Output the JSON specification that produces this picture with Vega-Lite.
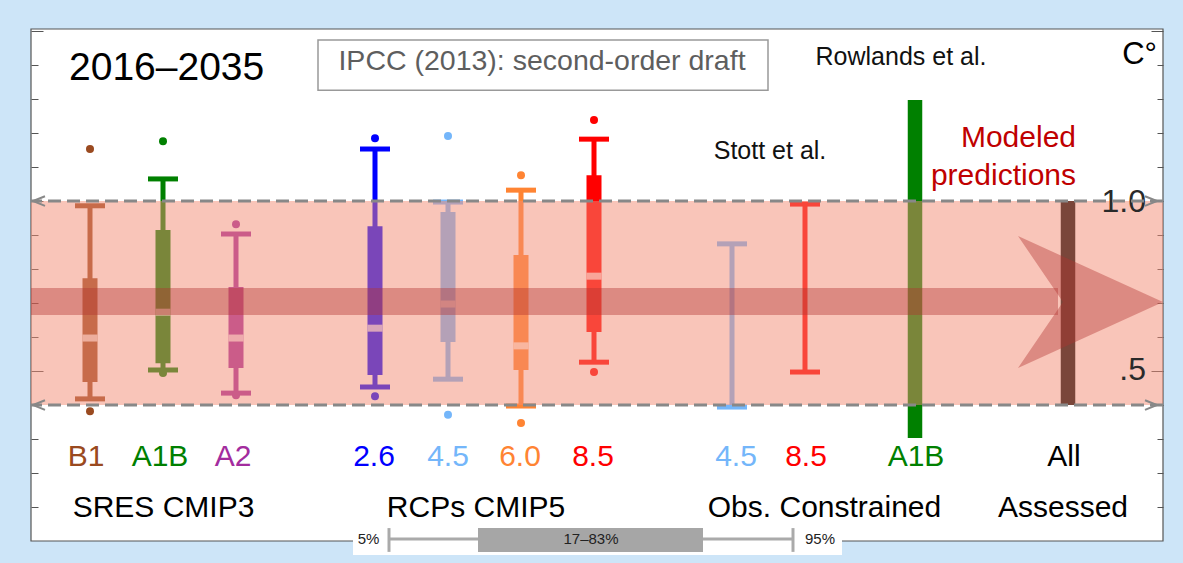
{
  "$schema": "https://vega.github.io/schema/vega-lite/v6.json",
  "width": 1132,
  "height": 512,
  "autosize": {"type": "none"},
  "padding": {"left": 31, "top": 29, "right": 20, "bottom": 22},
  "background": "#cde5f8",
  "config": {"view": {"fill": "white", "stroke": null}, "text": {"font": "Liberation Sans"}},
  "resolve": {"axis": {"y": "independent"}},
  "datasets": {
    "frame": [{"x0": 0, "x1": 1132, "lo": 0, "hi": 1.506}],
    "ipccbox": [{"x0": 287, "x1": 737, "lo": 1.326, "hi": 1.474}],
    "notes": [
      {"kind": "title", "x": 38, "v": 1.356, "text": "2016–2035"},
      {"kind": "ipcc", "x": 511, "v": 1.385, "text": "IPCC (2013): second-order draft"},
      {"kind": "ref", "x": 870, "v": 1.4, "text": "Rowlands et al."},
      {"kind": "ref", "x": 739, "v": 1.124, "text": "Stott et al."},
      {"kind": "unit", "x": 1126, "v": 1.403, "text": "C°"},
      {"kind": "model", "x": 1045, "v": 1.159, "text": "Modeled"},
      {"kind": "model", "x": 1045, "v": 1.047, "text": "predictions"},
      {"kind": "tick", "x": 1115, "v": 0.968, "text": "1.0"},
      {"kind": "tick", "x": 1115, "v": 0.474, "text": ".5"}
    ],
    "labels": [
      {"series": "B1", "x": 55, "text": "B1"},
      {"series": "A1B", "x": 129, "text": "A1B"},
      {"series": "A2", "x": 202, "text": "A2"},
      {"series": "2.6", "x": 343, "text": "2.6"},
      {"series": "4.5", "x": 417, "text": "4.5"},
      {"series": "6.0", "x": 489, "text": "6.0"},
      {"series": "8.5", "x": 562, "text": "8.5"},
      {"series": "Obs 4.5", "x": 705, "text": "4.5"},
      {"series": "Obs 8.5", "x": 775, "text": "8.5"},
      {"series": "Rowlands A1B", "x": 885, "text": "A1B"},
      {"series": "All", "x": 1033, "text": "All"}
    ],
    "groups": [
      {"x": 132.5, "text": "SRES CMIP3"},
      {"x": 445, "text": "RCPs CMIP5"},
      {"x": 793.5, "text": "Obs. Constrained"},
      {"x": 1032, "text": "Assessed"}
    ],
    "boxes": [
      {"series": "B1", "x": 59, "lo": 0.418, "q1": 0.468, "med": 0.597, "q3": 0.773, "hi": 0.986},
      {"series": "A1B", "x": 132, "lo": 0.503, "q1": 0.523, "med": 0.673, "q3": 0.915, "hi": 1.065},
      {"series": "A2", "x": 205, "lo": 0.435, "q1": 0.509, "med": 0.597, "q3": 0.747, "hi": 0.903},
      {"series": "2.6", "x": 344, "lo": 0.453, "q1": 0.488, "med": 0.626, "q3": 0.926, "hi": 1.153},
      {"series": "4.5", "x": 417, "lo": 0.476, "q1": 0.585, "med": 0.697, "q3": 0.968, "hi": 0.997},
      {"series": "6.0", "x": 490, "lo": 0.397, "q1": 0.503, "med": 0.574, "q3": 0.841, "hi": 1.032},
      {"series": "8.5", "x": 563, "lo": 0.526, "q1": 0.615, "med": 0.779, "q3": 1.076, "hi": 1.182}
    ],
    "outliers": [
      {"series": "B1", "x": 59, "v": 1.153}, {"series": "B1", "x": 59, "v": 0.382},
      {"series": "A1B", "x": 132, "v": 1.176}, {"series": "A1B", "x": 132, "v": 0.494},
      {"series": "A2", "x": 205, "v": 0.932}, {"series": "A2", "x": 205, "v": 0.429},
      {"series": "2.6", "x": 344, "v": 1.185}, {"series": "2.6", "x": 344, "v": 0.426},
      {"series": "4.5", "x": 417, "v": 1.191}, {"series": "4.5", "x": 417, "v": 0.371},
      {"series": "6.0", "x": 490, "v": 1.076}, {"series": "6.0", "x": 490, "v": 0.347},
      {"series": "8.5", "x": 563, "v": 1.238}, {"series": "8.5", "x": 563, "v": 0.497}
    ],
    "ranges": [
      {"series": "Obs 4.5", "x": 701, "lo": 0.394, "hi": 0.874},
      {"series": "Obs 8.5", "x": 774, "lo": 0.497, "hi": 0.991}
    ],
    "bars": [
      {"series": "Rowlands A1B", "x": 884, "lo": 0.303, "hi": 1.297},
      {"series": "All", "x": 1037, "lo": 0.4, "hi": 1.0}
    ],
    "likely": [{"x0": 0, "x1": 1132, "lo": 0.4, "hi": 1.0}],
    "limits": [{"v": 0.4}, {"v": 1.0}],
    "chevrons": [
      {"x": 8, "v": 1.0, "dir": "left"}, {"x": 8, "v": 0.4, "dir": "left"},
      {"x": 1120, "v": 1.0, "dir": "right"}, {"x": 1120, "v": 0.4, "dir": "right"}
    ],
    "shaft": [{"x0": 0, "x1": 1027, "lo": 0.665, "hi": 0.744}],
    "head": [{"x": 1059.5, "v": 0.703}],
    "keyback": [{"x0": 322, "x1": 811, "lo": -0.041, "hi": 0.032}],
    "keyline": [{"x0": 358, "x1": 762, "v": 0.006}],
    "keycaps": [{"x": 358, "lo": -0.032, "hi": 0.038}, {"x": 762, "lo": -0.032, "hi": 0.038}],
    "keybox": [{"x0": 447, "x1": 672, "lo": -0.032, "hi": 0.038}],
    "keytext": [
      {"kind": "end", "x": 337.5, "v": 0.006, "text": "5%"},
      {"kind": "mid", "x": 560, "v": 0.006, "text": "17–83%"},
      {"kind": "end", "x": 789, "v": 0.006, "text": "95%"}
    ]
  },
  "layer": [
    {
      "data": {"name": "frame"},
      "mark": {"type": "rect", "fillOpacity": 0, "stroke": "#555", "strokeWidth": 1.2},
      "encoding": {
        "x": {"field": "x0", "type": "quantitative", "scale": {"domain": [0, 1132], "nice": false, "zero": false}, "axis": null},
        "x2": {"field": "x1"},
        "y": {"field": "lo", "type": "quantitative", "scale": {"domain": [0, 1.506], "nice": false, "zero": false},
          "axis": {"orient": "left", "values": [0.1, 0.2, 0.3, 0.4, 0.5, 0.6, 0.7, 0.8, 0.9, 1, 1.1, 1.2, 1.3, 1.4, 1.5], "labels": false, "domain": false, "grid": false, "title": null, "tickColor": "#555", "tickWidth": 1,
            "tickSize": {"condition": {"test": "datum.value == 0.5 || datum.value == 1 || datum.value == 1.5", "value": -12}, "value": -7}}},
        "y2": {"field": "hi"}
      }
    },
    {
      "data": {"name": "ipccbox"},
      "mark": {"type": "rect", "fill": "white", "stroke": "#999", "strokeWidth": 1.5},
      "encoding": {
        "x": {"field": "x0", "type": "quantitative", "scale": {"domain": [0, 1132], "nice": false, "zero": false}, "axis": null},
        "x2": {"field": "x1"},
        "y": {"field": "lo", "type": "quantitative", "scale": {"domain": [0, 1.506], "nice": false, "zero": false}, "axis": null},
        "y2": {"field": "hi"}
      }
    },
    {
      "data": {"name": "notes"},
      "transform": [{"filter": "datum.kind == 'title'"}],
      "mark": {"type": "text", "align": "left", "baseline": "alphabetic", "fontSize": 39, "color": "black", "font": "Liberation Sans"},
      "encoding": {
        "x": {"field": "x", "type": "quantitative", "scale": {"domain": [0, 1132], "nice": false, "zero": false}, "axis": null},
        "y": {"field": "v", "type": "quantitative", "scale": {"domain": [0, 1.506], "nice": false, "zero": false}, "axis": null},
        "text": {"field": "text"}
      }
    },
    {
      "data": {"name": "notes"},
      "transform": [{"filter": "datum.kind == 'ipcc'"}],
      "mark": {"type": "text", "align": "center", "baseline": "alphabetic", "fontSize": 28.5, "color": "#5e5e5e", "font": "Liberation Sans"},
      "encoding": {
        "x": {"field": "x", "type": "quantitative", "scale": {"domain": [0, 1132], "nice": false, "zero": false}, "axis": null},
        "y": {"field": "v", "type": "quantitative", "scale": {"domain": [0, 1.506], "nice": false, "zero": false}, "axis": null},
        "text": {"field": "text"}
      }
    },
    {
      "data": {"name": "notes"},
      "transform": [{"filter": "datum.kind == 'ref'"}],
      "mark": {"type": "text", "align": "center", "baseline": "alphabetic", "fontSize": 25, "color": "#111", "font": "Liberation Sans"},
      "encoding": {
        "x": {"field": "x", "type": "quantitative", "scale": {"domain": [0, 1132], "nice": false, "zero": false}, "axis": null},
        "y": {"field": "v", "type": "quantitative", "scale": {"domain": [0, 1.506], "nice": false, "zero": false}, "axis": null},
        "text": {"field": "text"}
      }
    },
    {
      "data": {"name": "notes"},
      "transform": [{"filter": "datum.kind == 'unit'"}],
      "mark": {"type": "text", "align": "right", "baseline": "alphabetic", "fontSize": 31, "color": "black", "font": "Liberation Sans"},
      "encoding": {
        "x": {"field": "x", "type": "quantitative", "scale": {"domain": [0, 1132], "nice": false, "zero": false}, "axis": null},
        "y": {"field": "v", "type": "quantitative", "scale": {"domain": [0, 1.506], "nice": false, "zero": false}, "axis": null},
        "text": {"field": "text"}
      }
    },
    {
      "data": {"name": "notes"},
      "transform": [{"filter": "datum.kind == 'model'"}],
      "mark": {"type": "text", "align": "right", "baseline": "alphabetic", "fontSize": 30, "color": "#c00000", "font": "Liberation Sans"},
      "encoding": {
        "x": {"field": "x", "type": "quantitative", "scale": {"domain": [0, 1132], "nice": false, "zero": false}, "axis": null},
        "y": {"field": "v", "type": "quantitative", "scale": {"domain": [0, 1.506], "nice": false, "zero": false}, "axis": null},
        "text": {"field": "text"}
      }
    },
    {
      "data": {"name": "labels"},
      "mark": {"type": "text", "align": "center", "baseline": "alphabetic", "fontSize": 30, "font": "Liberation Sans"},
      "encoding": {
        "x": {"field": "x", "type": "quantitative", "scale": {"domain": [0, 1132], "nice": false, "zero": false}, "axis": null},
        "y": {"datum": 0.221, "type": "quantitative", "scale": {"domain": [0, 1.506], "nice": false, "zero": false}, "axis": null},
        "text": {"field": "text"},
        "color": {"field": "series", "type": "nominal", "legend": null,
          "scale": {"domain": ["B1", "A1B", "A2", "2.6", "4.5", "6.0", "8.5", "Obs 4.5", "Obs 8.5", "Rowlands A1B", "All"],
            "range": ["#9a4a20", "#008000", "#a32c9e", "#0000ff", "#74b6fa", "#ff8433", "#ff0000", "#74b6fa", "#ff0000", "#008000", "#000000"]}}
      }
    },
    {
      "data": {"name": "groups"},
      "mark": {"type": "text", "align": "center", "baseline": "alphabetic", "fontSize": 30, "color": "black", "font": "Liberation Sans"},
      "encoding": {
        "x": {"field": "x", "type": "quantitative", "scale": {"domain": [0, 1132], "nice": false, "zero": false}, "axis": null},
        "y": {"datum": 0.0706, "type": "quantitative", "scale": {"domain": [0, 1.506], "nice": false, "zero": false}, "axis": null},
        "text": {"field": "text"}
      }
    },
    {
      "data": {"name": "boxes"},
      "mark": {"type": "rule", "strokeWidth": 5},
      "encoding": {
        "x": {"field": "x", "type": "quantitative", "scale": {"domain": [0, 1132], "nice": false, "zero": false}, "axis": null},
        "y": {"field": "lo", "type": "quantitative", "scale": {"domain": [0, 1.506], "nice": false, "zero": false}, "axis": null},
        "y2": {"field": "hi"},
        "color": {"field": "series", "type": "nominal", "legend": null}
      }
    },
    {
      "data": {"name": "boxes"},
      "mark": {"type": "rule", "strokeWidth": 15},
      "encoding": {
        "x": {"field": "x", "type": "quantitative", "scale": {"domain": [0, 1132], "nice": false, "zero": false}, "axis": null},
        "y": {"field": "q1", "type": "quantitative", "scale": {"domain": [0, 1.506], "nice": false, "zero": false}, "axis": null},
        "y2": {"field": "q3"},
        "color": {"field": "series", "type": "nominal", "legend": null}
      }
    },
    {
      "data": {"name": "boxes"},
      "mark": {"type": "tick", "orient": "horizontal", "size": 15, "thickness": 7, "color": "white", "opacity": 0.75},
      "encoding": {
        "x": {"field": "x", "type": "quantitative", "scale": {"domain": [0, 1132], "nice": false, "zero": false}, "axis": null},
        "y": {"field": "med", "type": "quantitative", "scale": {"domain": [0, 1.506], "nice": false, "zero": false}, "axis": null}
      }
    },
    {
      "data": {"name": "boxes"},
      "mark": {"type": "tick", "orient": "horizontal", "size": 30, "thickness": 5, "opacity": 1},
      "encoding": {
        "x": {"field": "x", "type": "quantitative", "scale": {"domain": [0, 1132], "nice": false, "zero": false}, "axis": null},
        "y": {"field": "hi", "type": "quantitative", "scale": {"domain": [0, 1.506], "nice": false, "zero": false}, "axis": null},
        "color": {"field": "series", "type": "nominal", "legend": null}
      }
    },
    {
      "data": {"name": "boxes"},
      "mark": {"type": "tick", "orient": "horizontal", "size": 30, "thickness": 5, "opacity": 1},
      "encoding": {
        "x": {"field": "x", "type": "quantitative", "scale": {"domain": [0, 1132], "nice": false, "zero": false}, "axis": null},
        "y": {"field": "lo", "type": "quantitative", "scale": {"domain": [0, 1.506], "nice": false, "zero": false}, "axis": null},
        "color": {"field": "series", "type": "nominal", "legend": null}
      }
    },
    {
      "data": {"name": "outliers"},
      "mark": {"type": "circle", "size": 64, "opacity": 1},
      "encoding": {
        "x": {"field": "x", "type": "quantitative", "scale": {"domain": [0, 1132], "nice": false, "zero": false}, "axis": null},
        "y": {"field": "v", "type": "quantitative", "scale": {"domain": [0, 1.506], "nice": false, "zero": false}, "axis": null},
        "color": {"field": "series", "type": "nominal", "legend": null}
      }
    },
    {
      "data": {"name": "ranges"},
      "mark": {"type": "rule", "strokeWidth": 5},
      "encoding": {
        "x": {"field": "x", "type": "quantitative", "scale": {"domain": [0, 1132], "nice": false, "zero": false}, "axis": null},
        "y": {"field": "lo", "type": "quantitative", "scale": {"domain": [0, 1.506], "nice": false, "zero": false}, "axis": null},
        "y2": {"field": "hi"},
        "color": {"field": "series", "type": "nominal", "legend": null}
      }
    },
    {
      "data": {"name": "ranges"},
      "mark": {"type": "tick", "orient": "horizontal", "size": 30, "thickness": 5, "opacity": 1},
      "encoding": {
        "x": {"field": "x", "type": "quantitative", "scale": {"domain": [0, 1132], "nice": false, "zero": false}, "axis": null},
        "y": {"field": "hi", "type": "quantitative", "scale": {"domain": [0, 1.506], "nice": false, "zero": false}, "axis": null},
        "color": {"field": "series", "type": "nominal", "legend": null}
      }
    },
    {
      "data": {"name": "ranges"},
      "mark": {"type": "tick", "orient": "horizontal", "size": 30, "thickness": 5, "opacity": 1},
      "encoding": {
        "x": {"field": "x", "type": "quantitative", "scale": {"domain": [0, 1132], "nice": false, "zero": false}, "axis": null},
        "y": {"field": "lo", "type": "quantitative", "scale": {"domain": [0, 1.506], "nice": false, "zero": false}, "axis": null},
        "color": {"field": "series", "type": "nominal", "legend": null}
      }
    },
    {
      "data": {"name": "bars"},
      "mark": {"type": "rule", "strokeWidth": 14.5},
      "encoding": {
        "x": {"field": "x", "type": "quantitative", "scale": {"domain": [0, 1132], "nice": false, "zero": false}, "axis": null},
        "y": {"field": "lo", "type": "quantitative", "scale": {"domain": [0, 1.506], "nice": false, "zero": false}, "axis": null},
        "y2": {"field": "hi"},
        "color": {"field": "series", "type": "nominal", "legend": null}
      }
    },
    {
      "data": {"name": "likely"},
      "mark": {"type": "rect", "color": "#f38c74", "opacity": 0.5},
      "encoding": {
        "x": {"field": "x0", "type": "quantitative", "scale": {"domain": [0, 1132], "nice": false, "zero": false}, "axis": null},
        "x2": {"field": "x1"},
        "y": {"field": "lo", "type": "quantitative", "scale": {"domain": [0, 1.506], "nice": false, "zero": false}, "axis": null},
        "y2": {"field": "hi"}
      }
    },
    {
      "data": {"name": "notes"},
      "transform": [{"filter": "datum.kind == 'tick'"}],
      "mark": {"type": "text", "align": "right", "baseline": "alphabetic", "fontSize": 32, "color": "#2a2a2a", "font": "Liberation Sans"},
      "encoding": {
        "x": {"field": "x", "type": "quantitative", "scale": {"domain": [0, 1132], "nice": false, "zero": false}, "axis": null},
        "y": {"field": "v", "type": "quantitative", "scale": {"domain": [0, 1.506], "nice": false, "zero": false}, "axis": null},
        "text": {"field": "text"}
      }
    },
    {
      "data": {"name": "limits"},
      "mark": {"type": "rule", "color": "#888", "strokeWidth": 3, "strokeDash": [13, 6]},
      "encoding": {
        "y": {"field": "v", "type": "quantitative", "scale": {"domain": [0, 1.506], "nice": false, "zero": false},
          "axis": {"orient": "right", "values": [0.1, 0.2, 0.3, 0.4, 0.5, 0.6, 0.7, 0.8, 0.9, 1, 1.1, 1.2, 1.3, 1.4, 1.5], "labels": false, "domain": false, "grid": false, "title": null, "tickColor": "#555", "tickWidth": 1,
            "tickSize": {"condition": {"test": "datum.value == 0.5 || datum.value == 1 || datum.value == 1.5", "value": -12}, "value": -6}}}
      }
    },
    {
      "data": {"name": "chevrons"},
      "mark": {"type": "point", "filled": false, "size": 144, "color": "#888", "strokeWidth": 2, "opacity": 1},
      "encoding": {
        "x": {"field": "x", "type": "quantitative", "scale": {"domain": [0, 1132], "nice": false, "zero": false}, "axis": null},
        "y": {"field": "v", "type": "quantitative", "scale": {"domain": [0, 1.506], "nice": false, "zero": false}, "axis": null},
        "shape": {"field": "dir", "type": "nominal", "legend": null,
          "scale": {"domain": ["left", "right"], "range": ["M1,-0.8L-1,0L1,0.8", "M-1,-0.8L1,0L-1,0.8"]}}
      }
    },
    {
      "data": {"name": "shaft"},
      "mark": {"type": "rect", "color": "#b1332f", "opacity": 0.4},
      "encoding": {
        "x": {"field": "x0", "type": "quantitative", "scale": {"domain": [0, 1132], "nice": false, "zero": false}, "axis": null},
        "x2": {"field": "x1"},
        "y": {"field": "lo", "type": "quantitative", "scale": {"domain": [0, 1.506], "nice": false, "zero": false}, "axis": null},
        "y2": {"field": "hi"}
      }
    },
    {
      "data": {"name": "head"},
      "mark": {"type": "point", "shape": "M-1,-0.91L1,0L-1,0.91L-0.38,0Z", "size": 21025, "filled": true, "color": "#b1332f", "opacity": 0.4, "strokeWidth": 0},
      "encoding": {
        "x": {"field": "x", "type": "quantitative", "scale": {"domain": [0, 1132], "nice": false, "zero": false}, "axis": null},
        "y": {"field": "v", "type": "quantitative", "scale": {"domain": [0, 1.506], "nice": false, "zero": false}, "axis": null}
      }
    },
    {
      "data": {"name": "keyback"},
      "mark": {"type": "rect", "color": "white"},
      "encoding": {
        "x": {"field": "x0", "type": "quantitative", "scale": {"domain": [0, 1132], "nice": false, "zero": false}, "axis": null},
        "x2": {"field": "x1"},
        "y": {"field": "lo", "type": "quantitative", "scale": {"domain": [0, 1.506], "nice": false, "zero": false}, "axis": null},
        "y2": {"field": "hi"}
      }
    },
    {
      "data": {"name": "keyline"},
      "mark": {"type": "rule", "color": "#aaa", "strokeWidth": 3},
      "encoding": {
        "x": {"field": "x0", "type": "quantitative", "scale": {"domain": [0, 1132], "nice": false, "zero": false}, "axis": null},
        "x2": {"field": "x1"},
        "y": {"field": "v", "type": "quantitative", "scale": {"domain": [0, 1.506], "nice": false, "zero": false}, "axis": null}
      }
    },
    {
      "data": {"name": "keycaps"},
      "mark": {"type": "rule", "color": "#aaa", "strokeWidth": 3},
      "encoding": {
        "x": {"field": "x", "type": "quantitative", "scale": {"domain": [0, 1132], "nice": false, "zero": false}, "axis": null},
        "y": {"field": "lo", "type": "quantitative", "scale": {"domain": [0, 1.506], "nice": false, "zero": false}, "axis": null},
        "y2": {"field": "hi"}
      }
    },
    {
      "data": {"name": "keybox"},
      "mark": {"type": "rect", "color": "#a6a6a6"},
      "encoding": {
        "x": {"field": "x0", "type": "quantitative", "scale": {"domain": [0, 1132], "nice": false, "zero": false}, "axis": null},
        "x2": {"field": "x1"},
        "y": {"field": "lo", "type": "quantitative", "scale": {"domain": [0, 1.506], "nice": false, "zero": false}, "axis": null},
        "y2": {"field": "hi"}
      }
    },
    {
      "data": {"name": "keytext"},
      "mark": {"type": "text", "align": "center", "baseline": "middle", "fontSize": 15, "color": "#222", "font": "Liberation Sans"},
      "encoding": {
        "x": {"field": "x", "type": "quantitative", "scale": {"domain": [0, 1132], "nice": false, "zero": false}, "axis": null},
        "y": {"field": "v", "type": "quantitative", "scale": {"domain": [0, 1.506], "nice": false, "zero": false}, "axis": null},
        "text": {"field": "text"}
      }
    }
  ]
}
